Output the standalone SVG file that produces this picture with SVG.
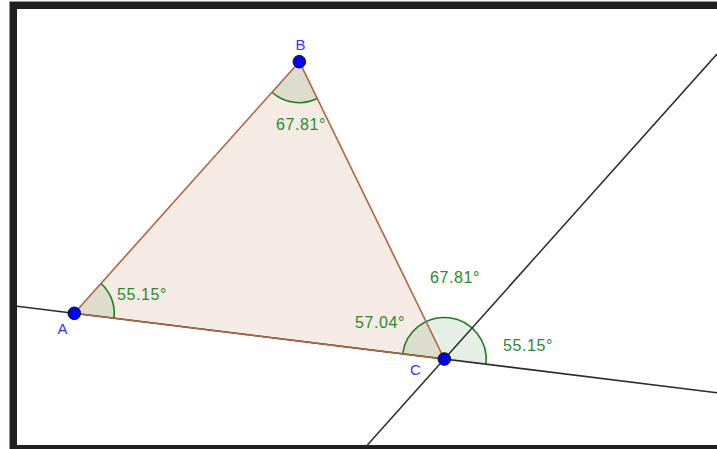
<svg xmlns="http://www.w3.org/2000/svg" width="717" height="449" viewBox="0 0 717 449">
<style>
.line{stroke:#2b2b2b;stroke-width:1.5;fill:none}
.edge{stroke:#b0643f;stroke-width:1.6;fill:none}
.sector{fill:#006400;fill-opacity:0.1;stroke:none}
.arc{fill:none;stroke:#1e7e1e;stroke-width:1.6}
.ang{font-family:"Liberation Sans",Arial,sans-serif;font-size:16px;fill:#2a8a2a;letter-spacing:0.6px}
.pt{fill:#0000ff;stroke:#111;stroke-width:1}
.lbl{font-family:"Liberation Sans",Arial,sans-serif;font-size:15px;fill:#3333ff}
</style>
<rect x="0" y="0" width="717" height="449" fill="#ffffff"/>
<g id="frame">
<rect x="9.5" y="1.5" width="720" height="460" fill="#231f20" stroke="#9a9a9a" stroke-width="0.8"/>
<rect x="17" y="9" width="710" height="436" fill="#ffffff"/>
</g>
<g id="triangle">
<polygon points="74.3,313.3 299.3,61.7 444.3,359" fill="#f5ebe5" stroke="none"/>
</g>
<g id="angles">
<path class="sector" d="M74.3,313.3 L100.96,283.48 A40,40 0 0 1 114,318.2 Z"/>
<path class="arc" d="M100.96,283.48 A40,40 0 0 1 114,318.2"/>
<path class="sector" d="M299.3,61.7 L317.27,98.55 A41,41 0 0 1 271.97,92.27 Z"/>
<path class="arc" d="M317.27,98.55 A41,41 0 0 1 271.97,92.27"/>
<path class="sector" d="M444.3,359 L402.62,353.85 A42,42 0 0 1 425.89,321.25 Z"/>
<path class="sector" d="M444.3,359 L425.89,321.25 A42,42 0 0 1 472.29,327.69 Z"/>
<path class="sector" d="M444.3,359 L472.29,327.69 A42,42 0 0 1 485.98,364.15 Z"/>
<path class="arc" d="M402.62,353.85 A42,42 0 0 1 485.98,364.15"/>
</g>
<g id="connectors">
<line class="line" x1="17" y1="306.2" x2="717" y2="392.7"/>
<line class="line" x1="367.4" y1="445" x2="717" y2="54"/>
<line class="edge" x1="74.3" y1="313.3" x2="299.3" y2="61.7"/>
<line class="edge" x1="299.3" y1="61.7" x2="444.3" y2="359"/>
<line class="edge" x1="444.3" y1="359" x2="74.3" y2="313.3"/>
</g>
<g id="angle-labels">
<text class="ang" x="117" y="300">55.15°</text>
<text class="ang" x="276" y="130">67.81°</text>
<text class="ang" x="355" y="328">57.04°</text>
<text class="ang" x="430" y="283">67.81°</text>
<text class="ang" x="503" y="351">55.15°</text>
</g>
<g id="A">
<circle class="pt" cx="74.3" cy="313.3" r="6.3"/>
<text class="lbl" x="57.5" y="334">A</text>
</g>
<g id="B">
<circle class="pt" cx="299.3" cy="61.7" r="6.3"/>
<text class="lbl" x="295.5" y="50">B</text>
</g>
<g id="C">
<circle class="pt" cx="444.3" cy="359" r="6.3"/>
<text class="lbl" x="410" y="375">C</text>
</g>
</svg>
